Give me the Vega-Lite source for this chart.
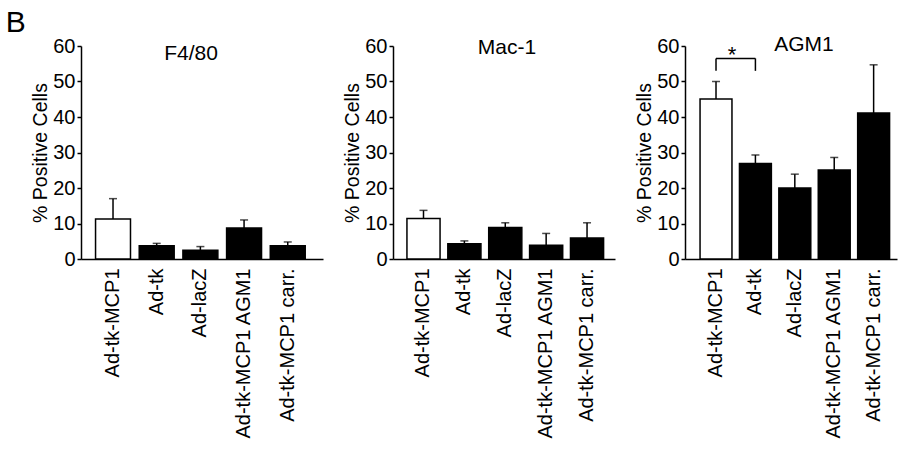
{
  "$schema": "https://vega.github.io/schema/vega-lite/v6.json",
  "background": "white",
  "padding": {"left": 5, "top": 8, "right": 5, "bottom": 5},
  "config": {
    "font": "Liberation Sans",
    "view": {"stroke": null},
    "axis": {
      "domainColor": "black",
      "domainWidth": 1.5,
      "tickColor": "black",
      "tickWidth": 1.5,
      "labelColor": "black",
      "titleColor": "black",
      "labelFont": "Liberation Sans",
      "titleFont": "Liberation Sans",
      "grid": false
    },
    "axisY": {"tickSize": 4, "labelPadding": 2, "labelFontSize": 20, "titleFontSize": 19.5, "titleFontWeight": "normal", "titlePadding": 2},
    "axisX": {"labelAngle": -90, "ticks": false, "labelPadding": 9, "labelFontSize": 20},
    "title": {"font": "Liberation Sans", "fontWeight": "normal", "color": "black"}
  },
  "title": {"text": "B", "anchor": "start", "frame": "bounds", "fontSize": 30, "fontWeight": "normal", "dx": -25, "offset": -4},
  "datasets": {
    "f480": [
      {"group": "Ad-tk-MCP1", "value": 11.3, "err": 17},
      {"group": "Ad-tk", "value": 3.7, "err": 4.4},
      {"group": "Ad-lacZ", "value": 2.5, "err": 3.5},
      {"group": "Ad-tk-MCP1 AGM1", "value": 8.7, "err": 11},
      {"group": "Ad-tk-MCP1 carr.", "value": 3.7, "err": 4.8}
    ],
    "mac1": [
      {"group": "Ad-tk-MCP1", "value": 11.4, "err": 13.7},
      {"group": "Ad-tk", "value": 4.3, "err": 5.1},
      {"group": "Ad-lacZ", "value": 8.9, "err": 10.2},
      {"group": "Ad-tk-MCP1 AGM1", "value": 3.9, "err": 7.2},
      {"group": "Ad-tk-MCP1 carr.", "value": 5.9, "err": 10.2}
    ],
    "agm1": [
      {"group": "Ad-tk-MCP1", "value": 45.1, "err": 50},
      {"group": "Ad-tk", "value": 26.9, "err": 29.3},
      {"group": "Ad-lacZ", "value": 20, "err": 23.9},
      {"group": "Ad-tk-MCP1 AGM1", "value": 25.1, "err": 28.6},
      {"group": "Ad-tk-MCP1 carr.", "value": 41.1, "err": 54.7}
    ],
    "bracketH": [{"from": "Ad-tk-MCP1", "to": "Ad-tk", "y": 56.5}],
    "bracketV": [
      {"group": "Ad-tk-MCP1", "lo": 53, "hi": 56.5},
      {"group": "Ad-tk", "lo": 53, "hi": 56.5}
    ],
    "star": [{"group": "Ad-tk-MCP1", "y": 57.6, "label": "*"}]
  },
  "bounds": "flush",
  "spacing": 70,
  "hconcat": [
    {
      "width": 242,
      "height": 213,
      "title": {"text": "F4/80", "fontSize": 21, "dx": -11, "dy": 32},
      "data": {"name": "f480"},
      "encoding": {
        "x": {"field": "group", "type": "nominal", "sort": null, "title": null,
          "scale": {"paddingInner": 0.2, "paddingOuter": 0.37, "align": 0.45}}
      },
      "layer": [
        {"mark": {"type": "bar", "stroke": "black", "strokeWidth": 1.5},
         "encoding": {
           "y": {"field": "value", "type": "quantitative", "scale": {"domain": [0, 60]},
             "axis": {"title": "% Positive Cells", "values": [0, 10, 20, 30, 40, 50, 60], "tickCount": 7, "labelOverlap": false}},
           "fill": {"condition": {"test": "datum.group === 'Ad-tk-MCP1'", "value": "white"}, "value": "black"}
         }},
        {"mark": {"type": "rule", "color": "black", "strokeWidth": 1.5},
         "encoding": {"y": {"field": "value", "type": "quantitative",
             "axis": {"title": "% Positive Cells", "values": [0, 10, 20, 30, 40, 50, 60], "tickCount": 7, "labelOverlap": false}},
           "y2": {"field": "err"}}},
        {"mark": {"type": "tick", "color": "black", "size": 8, "thickness": 1.5},
         "encoding": {"y": {"field": "err", "type": "quantitative",
             "axis": {"title": "% Positive Cells", "values": [0, 10, 20, 30, 40, 50, 60], "tickCount": 7, "labelOverlap": false}}}}
      ]
    },
    {
      "width": 222,
      "height": 213,
      "title": {"text": "Mac-1", "fontSize": 21, "dx": 3, "dy": 26},
      "data": {"name": "mac1"},
      "encoding": {
        "x": {"field": "group", "type": "nominal", "sort": null, "title": null,
          "scale": {"paddingInner": 0.19, "paddingOuter": 0.31, "align": 0.55}}
      },
      "layer": [
        {"mark": {"type": "bar", "stroke": "black", "strokeWidth": 1.5},
         "encoding": {
           "y": {"field": "value", "type": "quantitative", "scale": {"domain": [0, 60]},
             "axis": {"title": "% Positive Cells", "values": [0, 10, 20, 30, 40, 50, 60], "tickCount": 7, "labelOverlap": false}},
           "fill": {"condition": {"test": "datum.group === 'Ad-tk-MCP1'", "value": "white"}, "value": "black"}
         }},
        {"mark": {"type": "rule", "color": "black", "strokeWidth": 1.5},
         "encoding": {"y": {"field": "value", "type": "quantitative",
             "axis": {"title": "% Positive Cells", "values": [0, 10, 20, 30, 40, 50, 60], "tickCount": 7, "labelOverlap": false}},
           "y2": {"field": "err"}}},
        {"mark": {"type": "tick", "color": "black", "size": 8, "thickness": 1.5},
         "encoding": {"y": {"field": "err", "type": "quantitative",
             "axis": {"title": "% Positive Cells", "values": [0, 10, 20, 30, 40, 50, 60], "tickCount": 7, "labelOverlap": false}}}}
      ]
    },
    {
      "width": 212,
      "height": 213,
      "title": {"text": "AGM1", "fontSize": 21, "dx": 13, "dy": 23},
      "encoding": {
        "x": {"field": "group", "type": "nominal", "sort": null, "title": null,
          "scale": {"paddingInner": 0.19, "paddingOuter": 0.285, "align": 0.67}}
      },
      "layer": [
        {"data": {"name": "agm1"},
         "mark": {"type": "bar", "stroke": "black", "strokeWidth": 1.5},
         "encoding": {
           "y": {"field": "value", "type": "quantitative", "scale": {"domain": [0, 60]},
             "axis": {"title": "% Positive Cells", "values": [0, 10, 20, 30, 40, 50, 60], "tickCount": 7, "labelOverlap": false}},
           "fill": {"condition": {"test": "datum.group === 'Ad-tk-MCP1'", "value": "white"}, "value": "black"}
         }},
        {"data": {"name": "agm1"},
         "mark": {"type": "rule", "color": "black", "strokeWidth": 1.5},
         "encoding": {"y": {"field": "value", "type": "quantitative",
             "axis": {"title": "% Positive Cells", "values": [0, 10, 20, 30, 40, 50, 60], "tickCount": 7, "labelOverlap": false}},
           "y2": {"field": "err"}}},
        {"data": {"name": "agm1"},
         "mark": {"type": "tick", "color": "black", "size": 8, "thickness": 1.5},
         "encoding": {"y": {"field": "err", "type": "quantitative",
             "axis": {"title": "% Positive Cells", "values": [0, 10, 20, 30, 40, 50, 60], "tickCount": 7, "labelOverlap": false}}}},
        {"data": {"name": "bracketH"},
         "mark": {"type": "rule", "color": "black", "strokeWidth": 1.5},
         "encoding": {"x": {"field": "from", "type": "nominal"}, "x2": {"field": "to"},
           "y": {"field": "y", "type": "quantitative",
             "axis": {"title": "% Positive Cells", "values": [0, 10, 20, 30, 40, 50, 60], "tickCount": 7, "labelOverlap": false}}}},
        {"data": {"name": "bracketV"},
         "mark": {"type": "rule", "color": "black", "strokeWidth": 1.5},
         "encoding": {"y": {"field": "lo", "type": "quantitative",
             "axis": {"title": "% Positive Cells", "values": [0, 10, 20, 30, 40, 50, 60], "tickCount": 7, "labelOverlap": false}},
           "y2": {"field": "hi"}}},
        {"data": {"name": "star"},
         "mark": {"type": "text", "fontSize": 22, "color": "black", "baseline": "middle", "align": "center"},
         "encoding": {"x": {"field": "group", "type": "nominal", "bandPosition": 1},
           "y": {"field": "y", "type": "quantitative",
             "axis": {"title": "% Positive Cells", "values": [0, 10, 20, 30, 40, 50, 60], "tickCount": 7, "labelOverlap": false}},
           "text": {"field": "label"}}}
      ]
    }
  ]
}
